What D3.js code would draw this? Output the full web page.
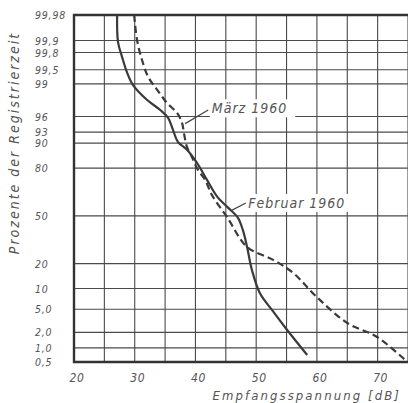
<!DOCTYPE html>
<html><head><meta charset="utf-8">
<script src="https://cdn.jsdelivr.net/npm/d3@7"></script>
<style>
html,body{margin:0;padding:0;background:#fff;}
text{font-family:"DejaVu Sans Condensed","DejaVu Sans",sans-serif;font-style:italic;fill:#555;}
</style></head>
<body><svg id="c" width="408" height="403"></svg>
<script>
// ---- data ----
const yTicks = [0.5, 1, 2, 5, 10, 20, 50, 80, 90, 93, 96, 99, 99.5, 99.8, 99.9, 99.98];
const yTickLabels = ["0,5","1,0","2,0","5,0","10","20","50","80","90","93","96","99","99,5","99,8","99,9","99,98"];
const xGrid = [25, 30, 35, 40, 45, 50, 55, 60, 65, 70, 75];
const xTickLabels = [20, 30, 40, 50, 60, 70];

const febX = [27.1, 27.25, 27.9, 28.7, 29.7, 32.0, 34.2, 35.5, 36.3, 37.1, 38.6, 40.25, 41.9, 43.6, 45.4, 47.0, 47.8, 48.5, 49.3, 50.6, 52.6, 55.1, 58.4];
const febP = [99.98, 99.89, 99.75, 99.44, 98.95, 97.96, 96.9, 95.8, 93.5, 90.4, 87.8, 82.5, 73.7, 63.1, 55.6, 48.6, 40.2, 29.2, 17.0, 8.7, 4.86, 2.21, 0.71];

const marX = [29.9, 30.4, 31.2, 32.2, 33.7, 35.3, 37.0, 37.8, 38.1, 38.6, 39.4, 40.4, 41.6, 42.7, 45.2, 48.5, 52.8, 56.1, 60.0, 65.0, 69.9, 74.9];
const marP = [99.98, 99.9, 99.7, 99.29, 98.68, 97.68, 96.5, 94.9, 92.8, 88.8, 85.1, 79.1, 73.7, 64.4, 49.2, 29.2, 21.9, 15.7, 7.6, 2.95, 1.64, 0.5];

const notes = [
  {text: "März 1960", x: 42.7, p: 97.1, lx1: 42.1, lp1: 96.9, lx2: 38.3, lp2: 94.8},
  {text: "Februar 1960", x: 48.7, p: 59.0, lx1: 48.3, lp1: 59.0, lx2: 45.8, lp2: 53.5}
];

// inverse normal CDF (Acklam)
function probit(p){
  const a=[-3.969683028665376e+01,2.209460984245205e+02,-2.759285104469687e+02,1.383577518672690e+02,-3.066479806614716e+01,2.506628277459239e+00];
  const b=[-5.447609879822406e+01,1.615858368580409e+02,-1.556989798598866e+02,6.680131188771972e+01,-1.328068155288572e+01];
  const c=[-7.784894002430293e-03,-3.223964580411365e-01,-2.400758277161838e+00,-2.549732539343734e+00,4.374664141464968e+00,2.938163982698783e+00];
  const d=[7.784695709041462e-03,3.224671290700398e-01,2.445134137142996e+00,3.754408661907416e+00];
  const pl=0.02425, ph=1-pl; let q,r;
  if(p<pl){q=Math.sqrt(-2*Math.log(p));return (((((c[0]*q+c[1])*q+c[2])*q+c[3])*q+c[4])*q+c[5])/((((d[0]*q+d[1])*q+d[2])*q+d[3])*q+1);}
  if(p<=ph){q=p-0.5;r=q*q;return (((((a[0]*r+a[1])*r+a[2])*r+a[3])*r+a[4])*r+a[5])*q/(((((b[0]*r+b[1])*r+b[2])*r+b[3])*r+b[4])*r+1);}
  q=Math.sqrt(-2*Math.log(1-p));return -(((((c[0]*q+c[1])*q+c[2])*q+c[3])*q+c[4])*q+c[5])/((((d[0]*q+d[1])*q+d[2])*q+d[3])*q+1);
}

const L=74, R=408, T=15, B=362;
const x = d3.scaleLinear().domain([20,75]).range([L,R]);
const zS = d3.scaleLinear().domain([probit(0.005), probit(0.9998)]).range([B,T]);
const y = p => zS(probit(p/100));

const svg = d3.select("#c");
const g = svg.append("g");

// grid
g.selectAll(".hg").data(yTicks).enter().append("line")
  .attr("x1",L).attr("x2",R).attr("y1",d=>y(d)).attr("y2",d=>y(d))
  .attr("stroke","#4a4a4a").attr("stroke-width",1.1);
g.selectAll(".vg").data(xGrid).enter().append("line")
  .attr("x1",d=>x(d)).attr("x2",d=>x(d)).attr("y1",T).attr("y2",B)
  .attr("stroke","#4a4a4a").attr("stroke-width",1.1);
// frame
g.append("path").attr("d",`M${R},${y(99.98)}H${L}V${y(0.5)}H${R}`)
  .attr("fill","none").attr("stroke","#333").attr("stroke-width",2.4);

// y labels
svg.selectAll(".yl").data(yTicks).enter().append("text")
  .attr("x",35).attr("y",d=>y(d)+4).attr("font-size",10.5).attr("letter-spacing",0.8)
  .text((d,i)=>yTickLabels[i]);
// x labels
svg.selectAll(".xl").data(xTickLabels).enter().append("text")
  .attr("x",d=>x(d)+3).attr("y",382).attr("text-anchor","middle").attr("font-size",12).attr("letter-spacing",0.6)
  .text(d=>d);

svg.append("text").attr("x",401).attr("y",400).attr("text-anchor","end")
  .attr("font-size",13).attr("letter-spacing",2.1).text("Empfangsspannung [dB]");
svg.append("text").attr("transform","translate(19,143) rotate(-90)").attr("text-anchor","middle")
  .attr("font-size",14).attr("letter-spacing",2.0).text("Prozente der Registrierzeit");

// curves
const line = d3.line().x(d=>x(d[0])).y(d=>y(d[1])).curve(d3.curveCatmullRom.alpha(0.5));
g.append("path").datum(febX.map((v,i)=>[v,febP[i]])).attr("d",line)
  .attr("fill","none").attr("stroke","#3a3a3a").attr("stroke-width",2.2);
g.append("path").datum(marX.map((v,i)=>[v,marP[i]])).attr("d",line)
  .attr("fill","none").attr("stroke","#3a3a3a").attr("stroke-width",2.2).attr("stroke-dasharray","7,4");

// annotations
notes.forEach(n=>{
  const tx = x(n.x), ty = y(n.p);
  const bb = svg.append("text").attr("x",tx).attr("y",ty+5).attr("font-size",14).attr("letter-spacing",1.0).text(n.text);
  const w = bb.node().getComputedTextLength();
  svg.insert("rect", () => bb.node()).attr("x",tx-2).attr("y",ty-9).attr("width",w+10).attr("height",18).attr("fill","#fff");
  svg.append("line").attr("x1",x(n.lx1)).attr("y1",y(n.lp1)).attr("x2",x(n.lx2)).attr("y2",y(n.lp2))
    .attr("stroke","#444").attr("stroke-width",1.2);
});
</script></body></html>
